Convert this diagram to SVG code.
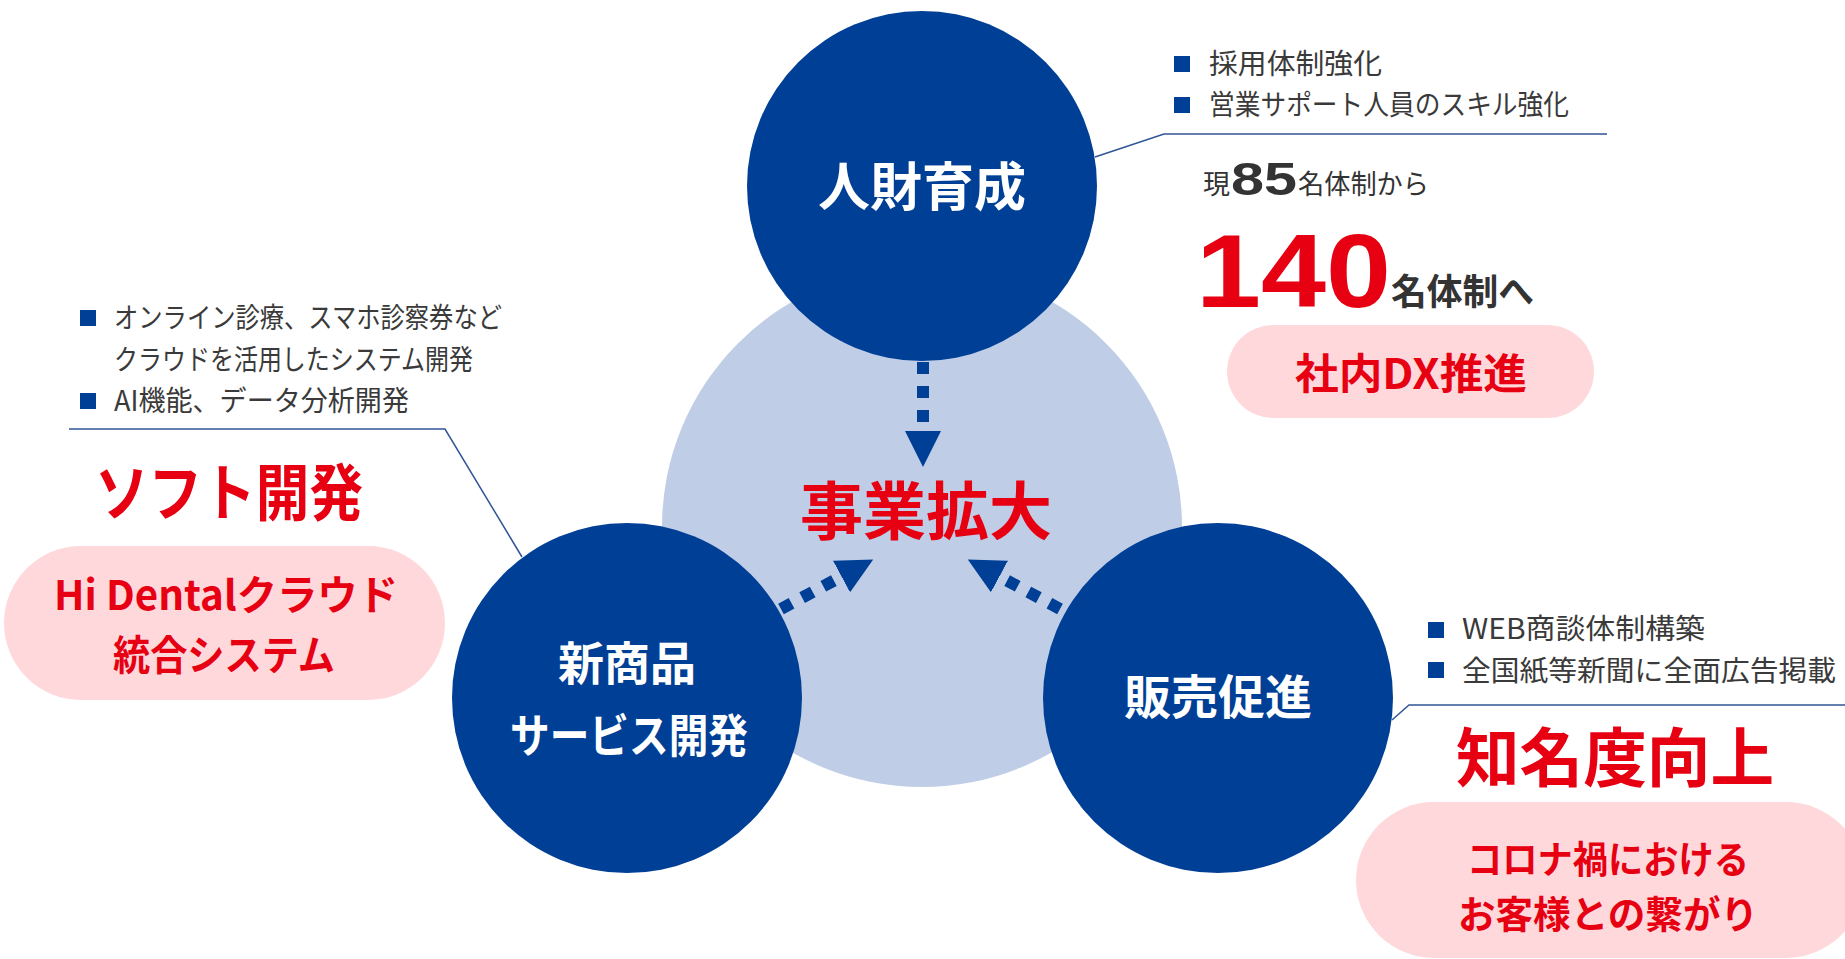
<svg xmlns="http://www.w3.org/2000/svg" width="1845" height="959" viewBox="0 0 1845 959">
<defs>
<style>
text { font-family: "Noto Sans CJK JP", "Noto Sans", sans-serif; }
.blue { fill: #003F96; }
.light { fill: #BFCEE6; }
.pill { fill: #FFD8DC; }
.ntext { fill: #FFFFFF; font-weight: 700; text-anchor: middle; }
.red { fill: #E60012; font-weight: 700; }
.mid { text-anchor: middle; }
.gray { fill: #3A3A3A; font-size: 28px; }
.dark { fill: #333333; }
.num { font-family: "Liberation Sans", Arial, sans-serif; font-weight: 700; }
.callout { fill: none; stroke: #2F5597; stroke-width: 1.5; }
.dash { fill: none; stroke: #003F96; stroke-width: 12; stroke-dasharray: 12 12; }
</style>
<marker id="ah" markerUnits="userSpaceOnUse" markerWidth="36" markerHeight="36" viewBox="0 0 36 36" refX="0" refY="18" orient="auto">
<path d="M0,0 L36,18 L0,36 z" fill="#003F96"/>
</marker>
</defs>
<rect width="1845" height="959" fill="#FFFFFF"/>

<g id="center">
<circle class="light" cx="922" cy="527" r="260"/>
<text class="red mid" x="926" y="534" font-size="63">事業拡大</text>
</g>

<g id="connectors">
<line class="dash" x1="923" y1="362" x2="923" y2="431" marker-end="url(#ah)"/>
<line class="dash" x1="781" y1="609" x2="841.5" y2="576.5" marker-end="url(#ah)"/>
<line class="dash" x1="1060" y1="609" x2="999.5" y2="576.5" marker-end="url(#ah)"/>
<polyline class="callout" points="1095,157 1164,134 1607,134"/>
<polyline class="callout" points="69,429 445,429 522,557"/>
<polyline class="callout" points="1392,720 1409,705 1845,705"/>
</g>

<g id="node-jinzai">
<circle class="blue" cx="922" cy="186" r="175"/>
<text class="ntext" x="922" y="206" font-size="52">人財育成</text>
</g>

<g id="node-shinshohin">
<circle class="blue" cx="627" cy="698" r="175"/>
<text class="ntext" font-size="46"><tspan x="627" y="680">新商品</tspan><tspan x="629" y="752" textLength="238" lengthAdjust="spacingAndGlyphs">サービス開発</tspan></text>
</g>

<g id="node-hanbai">
<circle class="blue" cx="1218" cy="698" r="175"/>
<text class="ntext" x="1218" y="714" font-size="47">販売促進</text>
</g>

<g id="note-jinzai">
<rect class="blue" x="1174" y="56" width="16" height="16"/>
<rect class="blue" x="1174" y="97" width="16" height="16"/>
<text class="gray" x="1209" y="74" font-size="29" textLength="173" lengthAdjust="spacingAndGlyphs">採用体制強化</text>
<text class="gray" x="1209" y="115" font-size="29" textLength="360" lengthAdjust="spacingAndGlyphs">営業サポート人員のスキル強化</text>
<text class="dark" x="1203" y="194" font-size="27">現</text>
<text class="dark num" x="1231" y="195" font-size="46" textLength="66" lengthAdjust="spacingAndGlyphs">85</text>
<text class="dark" x="1298" y="194" font-size="27" textLength="131" lengthAdjust="spacingAndGlyphs">名体制から</text>
<text class="num" fill="#E60012" x="1196" y="307" font-size="103" textLength="195" lengthAdjust="spacingAndGlyphs">140</text>
<text class="dark" font-weight="700" x="1391" y="305" font-size="36" textLength="143" lengthAdjust="spacingAndGlyphs">名体制へ</text>
<rect class="pill" x="1227" y="325" width="367" height="93" rx="46.5"/>
<text class="red mid" x="1411" y="389" font-size="42" textLength="232" lengthAdjust="spacingAndGlyphs">社内DX推進</text>
</g>

<g id="note-soft">
<rect class="blue" x="80" y="310" width="16" height="16"/>
<rect class="blue" x="80" y="393" width="16" height="16"/>
<text class="gray"><tspan x="114" y="328" textLength="388" lengthAdjust="spacingAndGlyphs">オンライン診療、スマホ診察券など</tspan><tspan x="114" y="370" textLength="359" lengthAdjust="spacingAndGlyphs">クラウドを活用したシステム開発</tspan></text>
<text class="gray" x="114" y="411" textLength="295" lengthAdjust="spacingAndGlyphs">AI機能、データ分析開発</text>
<text class="red" x="95" y="516" font-size="62" textLength="268" lengthAdjust="spacingAndGlyphs">ソフト開発</text>
<rect class="pill" x="4" y="546" width="441" height="154" rx="77"/>
<text class="red mid" font-size="41"><tspan x="226" y="610" textLength="344" lengthAdjust="spacingAndGlyphs">Hi Dentalクラウド</tspan><tspan x="224" y="670" textLength="222" lengthAdjust="spacingAndGlyphs">統合システム</tspan></text>
</g>

<g id="note-hanbai">
<rect class="blue" x="1428" y="622" width="16" height="16"/>
<rect class="blue" x="1428" y="662" width="16" height="16"/>
<text class="gray" x="1462" y="639" textLength="243" lengthAdjust="spacingAndGlyphs">WEB商談体制構築</text>
<text class="gray" x="1462" y="681" textLength="374" lengthAdjust="spacingAndGlyphs">全国紙等新聞に全面広告掲載</text>
<text class="red mid" x="1615" y="781" font-size="64" textLength="318" lengthAdjust="spacingAndGlyphs">知名度向上</text>
<rect class="pill" x="1356" y="802" width="508" height="156" rx="78"/>
<text class="red mid" font-size="38"><tspan x="1608" y="873" textLength="282" lengthAdjust="spacingAndGlyphs">コロナ禍における</tspan><tspan x="1608" y="928" textLength="300" lengthAdjust="spacingAndGlyphs">お客様との繋がり</tspan></text>
</g>
</svg>
